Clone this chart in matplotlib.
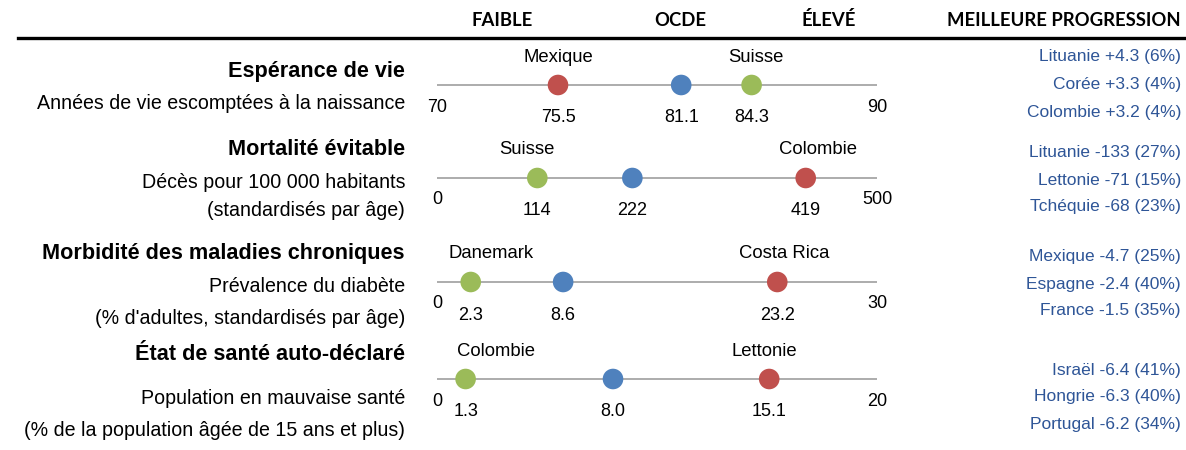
import matplotlib.pyplot as plt

W, H = 1186, 450

titles = ["Espérance de vie", "Mortalité évitable",
          "Morbidité des maladies chroniques", "État de santé auto-déclaré"]
subtitles = [["Années de vie escomptées à la naissance"],
             ["Décès pour 100 000 habitants", "(standardisés par âge)"],
             ["Prévalence du diabète", "(% d'adultes, standardisés par âge)"],
             ["Population en mauvaise santé", "(% de la population âgée de 15 ans et plus)"]]
axis_min = [70, 0, 0, 0]
axis_max = [90, 500, 30, 20]
low_country = ["Mexique", "Suisse", "Danemark", "Colombie"]
high_country = ["Suisse", "Colombie", "Costa Rica", "Lettonie"]
low_value = [75.5, 114, 2.3, 1.3]
oecd_value = [81.1, 222, 8.6, 8.0]
high_value = [84.3, 419, 23.2, 15.1]
# couleur du point "faible" / "élevé" (rouge = mauvais, vert = bon)
low_is_bad = [True, False, False, False]
progression = [["Lituanie +4.3 (6%)", "Corée +3.3 (4%)", "Colombie +3.2 (4%)"],
               ["Lituanie -133 (27%)", "Lettonie -71 (15%)", "Tchéquie -68 (23%)"],
               ["Mexique -4.7 (25%)", "Espagne -2.4 (40%)", "France -1.5 (35%)"],
               ["Israël -6.4 (41%)", "Hongrie -6.3 (40%)", "Portugal -6.2 (34%)"]]

RED, BLUE, GREEN = "#C0504D", "#4F81BD", "#9BBB59"
TXT_BLUE = "#2E5597"

# layout (pixels)
line_y = [85, 178, 282, 379]
title_y = [72, 150, 253, 355]
sub_y = [[104], [182, 211], [286, 318], [398, 430]]
prog_y = [[57, 85, 112], [152, 180, 207], [257, 284, 311], [371, 397, 425]]
name_dx = [[0, 4], [-10, 12], [20, 7], [30, -5]]

plt.rcParams['font.family'] = ['Liberation Sans', 'DejaVu Sans']
fig = plt.figure(figsize=(W / 100, H / 100), dpi=100)


def fy(y):
    return 1 - y / H


# header
hdr = dict(fontsize=13.3, fontweight='bold', family=['Lato', 'DejaVu Sans'], va='center')
fig.text(502 / W, fy(20), "FAIBLE", ha='center', **hdr)
fig.text(680 / W, fy(20), "OCDE", ha='center', **hdr)
fig.text(829 / W, fy(20), "ÉLEVÉ", ha='center', **hdr)
fig.text(1181 / W, fy(20), "MEILLEURE PROGRESSION", ha='right', **hdr)
fig.add_artist(plt.Line2D([18 / W, 1], [fy(38), fy(38)], color='black', lw=2.4,
                          transform=fig.transFigure))

for i in range(4):
    fig.text(405 / W, fy(title_y[i]), titles[i], ha='right', va='center',
             fontsize=15.6, fontweight='bold')
    for s, y in zip(subtitles[i], sub_y[i]):
        fig.text(405 / W, fy(y), s, ha='right', va='center', fontsize=14.1)
    for s, y in zip(progression[i], prog_y[i]):
        fig.text(1181 / W, fy(y), s, ha='right', va='center', fontsize=12.5, color=TXT_BLUE)

    ax = fig.add_axes([437 / W, fy(line_y[i] + 20), 440 / W, 40 / H])
    lo, hi = axis_min[i], axis_max[i]
    ax.set_xlim(lo, hi)
    ax.set_ylim(-1, 1)
    ax.axis('off')
    ax.plot([lo, hi], [0, 0], color='#A6A6A6', lw=1.3, zorder=1)
    c_low, c_high = (RED, GREEN) if low_is_bad[i] else (GREEN, RED)
    vals = [low_value[i], oecd_value[i], high_value[i]]
    ax.scatter(vals, [0, 0, 0], c=[c_low, BLUE, c_high], s=220, zorder=3,
               clip_on=False, linewidths=0)
    for v in vals:
        ax.annotate(f"{v:g}" if i == 1 else f"{v:.1f}", (v, 0), xytext=(0, -33),
                    textcoords='offset pixels', ha='center', va='center', fontsize=13)
    ax.annotate(low_country[i], (low_value[i], 0), xytext=(name_dx[i][0], 28),
                textcoords='offset pixels', ha='center', va='center', fontsize=13.3)
    ax.annotate(high_country[i], (high_value[i], 0), xytext=(name_dx[i][1], 28),
                textcoords='offset pixels', ha='center', va='center', fontsize=13.3)
    ax.annotate(f"{lo}", (lo, 0), xytext=(0, -22), textcoords='offset pixels',
                ha='center', va='center', fontsize=13)
    ax.annotate(f"{hi}", (hi, 0), xytext=(0, -22), textcoords='offset pixels',
                ha='center', va='center', fontsize=13)

fig.savefig("out.png", dpi=100)
plt.close(fig)
